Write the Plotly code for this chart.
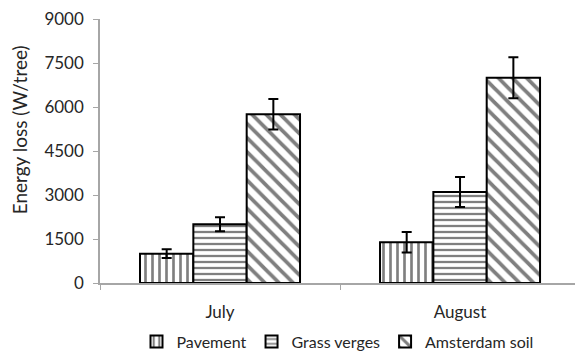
import plotly.graph_objects as go

months = ["July", "August"]
series_names = ["Pavement", "Grass verges", "Amsterdam soil"]
pavement = [1000, 1390]
pavement_err = [150, 350]
grass = [2000, 3100]
grass_err = [240, 510]
amsterdam = [5750, 7000]
amsterdam_err = [520, 700]
y_ticks = [0, 1500, 3000, 4500, 6000, 7500, 9000]

values = [pavement, grass, amsterdam]
errors = [pavement_err, grass_err, amsterdam_err]
shapes = ["|", "-", "\\"]
sizes = [7, 6, 10]

fig = go.Figure()
for name, v, e, sh, sz in zip(series_names, values, errors, shapes, sizes):
    fig.add_trace(go.Bar(
        name=name, x=months, y=v,
        marker=dict(color="white",
                    line=dict(color="black", width=2),
                    pattern=dict(shape=sh, fgcolor="black", bgcolor="white",
                                 size=sz, solidity=0.38, fillmode="overlay")),
        error_y=dict(type="data", array=e, visible=True, color="black",
                     thickness=2, width=5),
    ))

font = "Lato, 'Open Sans', sans-serif"
txt = "#262626"
fig.update_layout(
    width=575, height=352,
    margin=dict(l=100, r=0, t=19, b=69, autoexpand=False),
    paper_bgcolor="white", plot_bgcolor="white",
    barmode="group", bargap=1/3, bargroupgap=0,
    font=dict(family=font, size=17, color=txt),
    showlegend=True,
    legend=dict(orientation="h", x=0.5, xanchor="center",
                yref="container", y=0.078, yanchor="top",
                font=dict(size=16, color=txt), traceorder="normal",
                itemwidth=30, tracegroupgap=0),
    xaxis=dict(type="category", range=[-0.5, 1.479],
               showline=True, linecolor="#a6a6a6", linewidth=1.5,
               ticks="outside", tickson="boundaries", tickcolor="#a6a6a6",
               ticklen=5, ticklabelstandoff=13, showgrid=False),
    yaxis=dict(range=[0, 9000], tickvals=y_ticks, showline=True,
               linecolor="#a6a6a6", linewidth=1.5, ticks="outside",
               tickcolor="#a6a6a6", ticklen=5, ticklabelstandoff=6,
               showgrid=False, zeroline=False),
    annotations=[dict(text="Energy loss (W/tree)", textangle=-90,
                      xref="paper", yref="paper", x=-0.198, y=0.58,
                      xanchor="left", yanchor="middle", showarrow=False,
                      font=dict(size=19, color=txt))],
)

fig.write_html("out.html", config={"displayModeBar": False},
               post_script="document.body.style.margin='0';document.body.style.overflow='hidden';")
